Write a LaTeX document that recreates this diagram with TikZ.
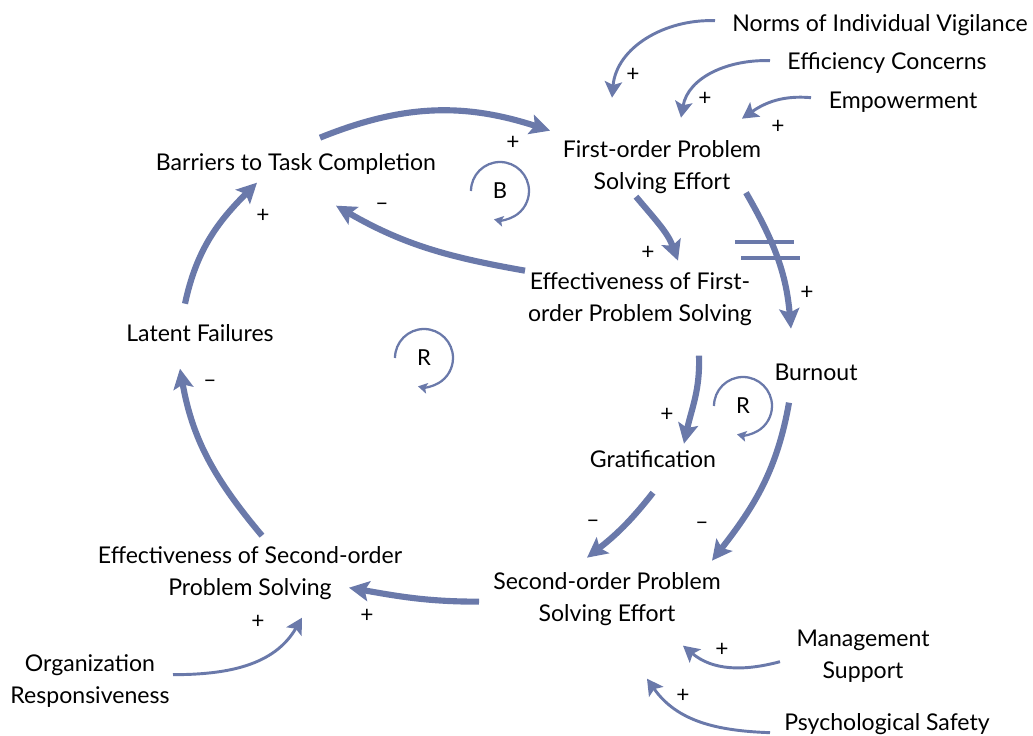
\documentclass[tikz,border=0pt]{standalone}
\usepackage{fontspec}
\setmainfont{Lato}
\usetikzlibrary{arrows.meta}
\definecolor{linkblue}{RGB}{106,121,170}
\begin{document}
\begin{tikzpicture}[x=0.75pt,y=0.75pt,
  lbl/.style={font=\fontsize{17.3}{24}\selectfont, align=center, inner sep=0pt, text=black, yshift=-2},
  sgn/.style={font=\fontsize{17}{17}\selectfont, inner sep=0pt},
  loopname/.style={font=\fontsize{16.5}{18}\selectfont, inner sep=0pt},
  mainlink/.style={draw=linkblue, line width=4.6pt, -{Stealth[length=15pt,width=15pt,inset=3pt]}},
  inlink/.style={draw=linkblue, line width=2.2pt, -{Stealth[length=12pt,width=13pt,inset=2.5pt]}},
  looplink/.style={draw=linkblue, line width=1.7pt, -{Stealth[length=7pt,width=8pt,inset=1.5pt]}},
  hashmark/.style={draw=linkblue, line width=2.4pt},
]
\useasboundingbox (0,0) rectangle (1033,-736);

% variables
\node[lbl] (norms)     at (880,-22)  {Norms of Individual Vigilance};
\node[lbl] (effic)     at (887,-60)  {Efficiency Concerns};
\node[lbl] (empow)     at (903,-100) {Empowerment};
\node[lbl] (first)     at (662,-164) {First-order Problem\\Solving Effort};
\node[lbl] (barriers)  at (296,-161) {Barriers to Task Completion};
\node[lbl] (efffirst)  at (640,-296) {Effectiveness of First-\\order Problem Solving};
\node[lbl] (latent)    at (200,-330) {Latent Failures};
\node[lbl] (burnout)   at (816,-370) {Burnout};
\node[lbl] (grat)      at (653,-456) {Gratification};
\node[lbl] (effsecond) at (250,-570) {Effectiveness of Second-order\\Problem Solving};
\node[lbl] (second)    at (607,-596) {Second-order Problem\\Solving Effort};
\node[lbl] (org)       at (90,-678)  {Organization\\Responsiveness};
\node[lbl] (mgmt)      at (863,-654) {Management\\Support};
\node[lbl] (psych)     at (887,-721) {Psychological Safety};

% loop identifiers
\node[loopname] (loopB)  at (500,-191) {B};
\node[loopname] (loopR1) at (424,-358) {R};
\node[loopname] (loopR2) at (743,-406) {R};
\draw[looplink] ([shift={(180:29)}]loopB.center)  arc[start angle=180, end angle=-102, radius=29];
\draw[looplink] ([shift={(180:29)}]loopR1.center) arc[start angle=180, end angle=-102, radius=29];
\draw[looplink] ([shift={(180:29)}]loopR2.center) arc[start angle=180, end angle=-102, radius=29];

% main causal links (end points taken from the unshifted label centres)
\draw[mainlink] ([shift={(24,26)}]barriers.center)   to[out=22,in=162]   ([shift={(-112,36)}]first.center);
\draw[mainlink] ([shift={(-115,28)}]efffirst.center) to[out=170,in=-30]  ([shift={(40,-42)}]barriers.center);
\draw[mainlink] ([shift={(-26,-30)}]first.center)    to[out=-50,in=110]  ([shift={(38,38)}]efffirst.center);
\draw[mainlink] ([shift={(84,-26)}]first.center)     to[out=-60,in=95]   ([shift={(-25,44)}]burnout.center);
\draw[mainlink] ([shift={(59,-57)}]efffirst.center)  to[out=-88,in=78]   ([shift={(31,15)}]grat.center);
\draw[mainlink] ([shift={(-27,-30)}]burnout.center)  to[out=-100,in=52]  ([shift={(105,38)}]second.center);
\draw[mainlink] ([shift={(0,-34)}]grat.center)       to[out=-128,in=38]  ([shift={(-20,41)}]second.center);
\draw[mainlink] ([shift={(-128,-3)}]second.center)   to[out=180,in=-10]  ([shift={(99,-15)}]effsecond.center);
\draw[mainlink] ([shift={(12,37)}]effsecond.center)  to[out=130,in=-80]  ([shift={(-20,-36)}]latent.center);
\draw[mainlink] ([shift={(-15,29)}]latent.center)    to[out=78,in=-135]  ([shift={(-39,-19)}]barriers.center);

% delay mark on the burnout link
\draw[hashmark] (735,-242) -- (794,-242);
\draw[hashmark] (741,-258) -- (800,-258);

% exogenous inputs
\draw[inlink] ([shift={(-165,4)}]norms.center)   to[out=178,in=85]  ([shift={(-50,69)}]first.center);
\draw[inlink] ([shift={(-117,2)}]effic.center)   to[out=178,in=80]  ([shift={(19,49)}]first.center);
\draw[inlink] ([shift={(-92,5)}]empow.center)    to[out=175,in=35]  ([shift={(80,48)}]first.center);
\draw[inlink] ([shift={(-83,-5)}]mgmt.center)    to[out=195,in=-40] ([shift={(76,-47)}]second.center);
\draw[inlink] ([shift={(-117,-9)}]psych.center)  to[out=178,in=-55] ([shift={(40,-80)}]second.center);
\draw[inlink] ([shift={(83,6)}]org.center)       to[out=0,in=-120]  ([shift={(52,-45)}]effsecond.center);

% link polarities
\node[sgn] (s1)  at (633,-75)  {+};
\node[sgn] (s2)  at (705,-99)  {+};
\node[sgn] (s3)  at (778,-127) {+};
\node[sgn] (s4)  at (513,-143) {+};
\node[sgn] (s5)  at (382,-207) {–};
\node[sgn] (s6)  at (648,-253) {+};
\node[sgn] (s7)  at (807,-293) {+};
\node[sgn] (s8)  at (263,-216) {+};
\node[sgn] (s9)  at (210,-384) {–};
\node[sgn] (s10) at (667,-415) {+};
\node[sgn] (s11) at (593,-524) {–};
\node[sgn] (s12) at (702,-526) {–};
\node[sgn] (s13) at (258,-622) {+};
\node[sgn] (s14) at (367,-616) {+};
\node[sgn] (s15) at (722,-650) {+};
\node[sgn] (s16) at (683,-696) {+};
\end{tikzpicture}
\end{document}
